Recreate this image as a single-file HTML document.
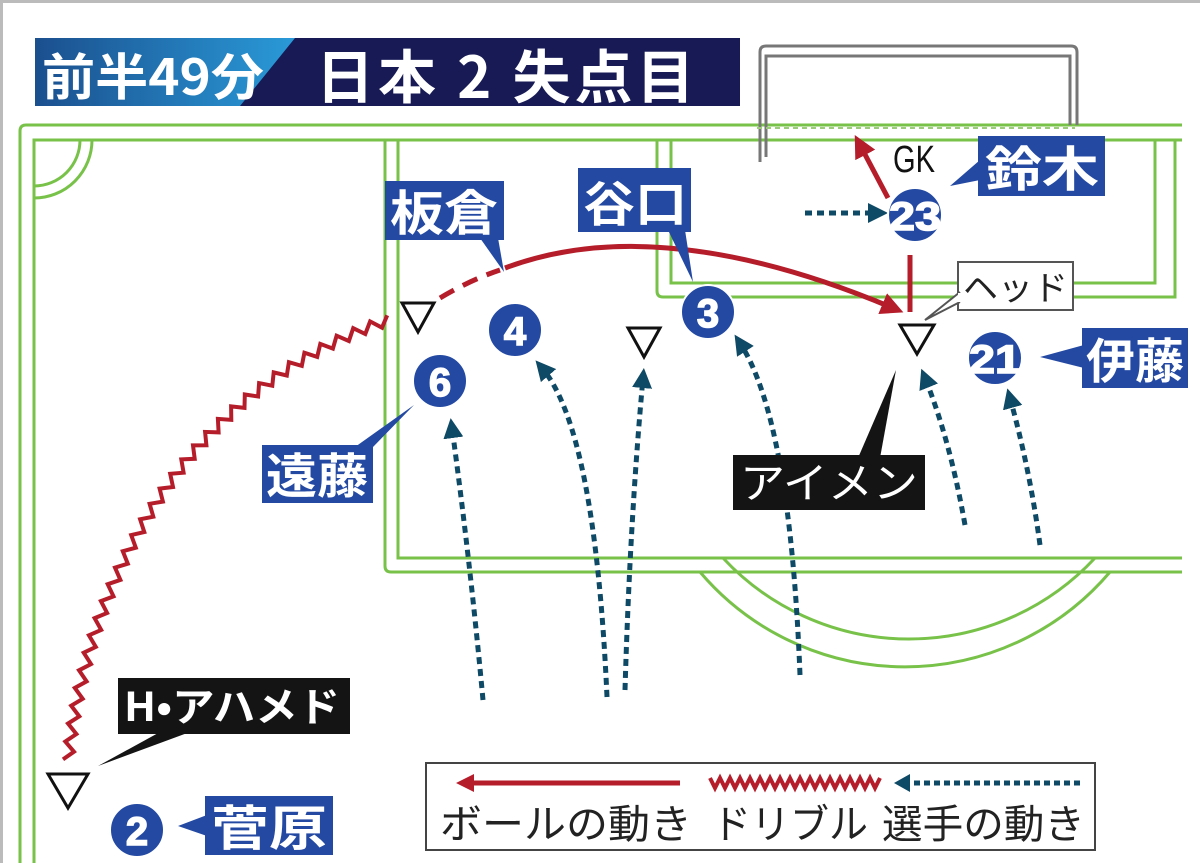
<!DOCTYPE html>
<html><head><meta charset="utf-8"><style>
html,body{margin:0;padding:0;background:#fff;}
svg{display:block;}
text{font-family:"Liberation Sans","Noto Sans CJK JP",sans-serif;}
.jp{font-family:"Noto Sans CJK JP","Liberation Sans",sans-serif;}
.num{font-family:"DejaVu Sans","Liberation Sans",sans-serif;font-weight:bold;}
</style></head><body>
<svg id="s" width="1200" height="863" viewBox="0 0 1200 863" xmlns="http://www.w3.org/2000/svg">
<defs>
<linearGradient id="hg" x1="0" x2="1" y1="0" y2="0"><stop offset="0" stop-color="#1b4f8e"/><stop offset="1" stop-color="#2a9ad8"/></linearGradient>
<marker id="ar" viewBox="0 0 10 10" refX="5" refY="5" markerWidth="4.5" markerHeight="4.5" orient="auto"><path d="M0,0 L10,5 L0,10 z" fill="#b51d2a"/></marker>
<marker id="ab" viewBox="0 0 10 10" refX="5" refY="5" markerWidth="4" markerHeight="4" orient="auto"><path d="M0,0 L10,5 L0,10 z" fill="#0e4965"/></marker>
</defs>
<rect x="0" y="0" width="1200" height="863" fill="#fff"/>
<rect x="0" y="0" width="1200" height="3" fill="#bbb"/>
<rect x="0" y="0" width="3" height="863" fill="#bbb"/>

<!-- pitch lines -->
<g fill="none" stroke="#78c24a" stroke-width="3">
<path d="M20,863 V131 Q20,125 26,125 H1182"/>
<path d="M34,863 V140 H1182"/>
<path d="M34,186 A46,46 0 0 0 80,140"/>
<path d="M34,198 A58,58 0 0 0 92,140"/>
<path d="M385,140 V566 Q385,572 391,572 H1182"/>
<path d="M398,140 V558 H1182"/>
<path d="M657,140 V291 Q657,297 663,297 H1175 V140"/>
<path d="M671,140 V283 H1155 V140"/>
<path d="M700,572 A269,269 0 0 0 1110,572"/>
<path d="M723,558 A254,254 0 0 0 1095,558"/>
</g>

<!-- goal -->
<g fill="none" stroke="#777" stroke-width="3">
<path d="M760,162 V52 Q760,46 766,46 H1071 Q1077,46 1077,52 V125"/>
<path d="M766,157 V56 H1070 V125"/>
</g>
<path d="M757,128 H1075" stroke="#9ccb7c" stroke-width="2" stroke-dasharray="5,4" fill="none"/>

<!-- header -->
<rect x="35" y="38" width="705" height="68" fill="#171a55"/>
<path d="M35,38 H295 L240,106 H35 z" fill="url(#hg)"/>
<text x="42" y="95" class="jp" font-size="50" font-weight="bold" fill="#fff" textLength="222" lengthAdjust="spacingAndGlyphs">前半49分</text>
<text x="316" y="98" class="jp" font-size="58" font-weight="bold" fill="#fff" letter-spacing="4">日本 2 失点目</text>

<!-- red ball path -->
<path d="M440,298 Q470,280 500,270" stroke="#b51d2a" stroke-width="5" fill="none" stroke-dasharray="16,10"/>
<path d="M505,268 Q660,210 893,308" stroke="#b51d2a" stroke-width="5" fill="none" marker-end="url(#ar)"/>
<path d="M910,312 V255" stroke="#b51d2a" stroke-width="5" fill="none"/>
<path d="M888,198 L860,145" stroke="#b51d2a" stroke-width="5" fill="none" marker-end="url(#ar)"/>

<!-- dribble zigzag -->
<path id="zz" d="M68,760 C90,560 200,380 395,318" stroke="#b51d2a" stroke-width="4" fill="none"/>

<!-- blue dotted arrows -->
<g stroke="#0e4965" stroke-width="5" fill="none" stroke-dasharray="7,5" marker-end="url(#ab)">
<path d="M483,700 Q470,560 452,428"/>
<path d="M607,697 Q595,430 542,368"/>
<path d="M625,690 Q630,520 643,378"/>
<path d="M800,675 Q790,420 740,343"/>
<path d="M965,525 Q950,440 925,378"/>
<path d="M1040,545 Q1030,470 1010,398"/>
<path d="M805,213 H878"/>
</g>

<!-- triangles -->
<g fill="#fff" stroke="#111" stroke-width="3" stroke-linejoin="miter">
<path d="M402,303 H434 L418,332 z"/>
<path d="M628,328 H660 L644,357 z"/>
<path d="M900,325 H934 L917,354 z"/>
<path d="M48,774 H88 L68,808 z"/>
</g>

<!-- callouts blue -->
<g fill="#2349a3">
<rect x="385" y="181" width="119" height="59"/><path d="M480,238 L504,272 L498,238 z"/>
<rect x="578" y="168" width="113" height="64"/><path d="M668,230 L693,282 L685,230 z"/>
<rect x="978" y="136" width="127" height="60"/><path d="M980,160 L950,186 L980,180 z"/>
<rect x="1082" y="328" width="106" height="60"/><path d="M1084,345 L1040,357 L1084,368 z"/>
<rect x="262" y="445" width="111" height="58"/><path d="M355,447 L414,405 L373,447 z"/>
<rect x="205" y="796" width="128" height="59"/><path d="M207,815 L178,826 L207,836 z"/>
</g>
<g class="jp" font-weight="bold" fill="#fff" font-size="48">
<text x="390" y="230" textLength="108" lengthAdjust="spacingAndGlyphs">板倉</text>
<text x="583" y="221" textLength="104" lengthAdjust="spacingAndGlyphs">谷口</text>
<text x="985" y="186" textLength="114" lengthAdjust="spacingAndGlyphs">鈴木</text>
<text x="1086" y="378" textLength="98" lengthAdjust="spacingAndGlyphs">伊藤</text>
<text x="266" y="493" textLength="102" lengthAdjust="spacingAndGlyphs">遠藤</text>
<text x="211" y="845" textLength="116" lengthAdjust="spacingAndGlyphs">菅原</text>
</g>

<!-- black callouts -->
<g fill="#141414">
<rect x="733" y="455" width="192" height="55"/><path d="M858,458 L896,370 L880,458 z"/>
<rect x="118" y="678" width="232" height="56"/><path d="M160,732 L98,766 L190,732 z"/>
</g>
<text x="740" y="498" class="jp" font-size="42" fill="#fff" textLength="178" lengthAdjust="spacingAndGlyphs">アイメン</text>
<text x="124" y="721" class="jp" font-size="40" fill="#fff" font-weight="bold" textLength="216" lengthAdjust="spacingAndGlyphs">H•アハメド</text>

<!-- ヘッド -->
<rect x="958" y="262" width="115" height="48" fill="#fff" stroke="#555" stroke-width="2"/>
<path d="M960,292 L925,320 L960,302" fill="#fff" stroke="#555" stroke-width="2"/>
<rect x="958" y="293" width="4" height="9" fill="#fff"/>
<text x="963" y="300" class="jp" font-size="34" fill="#222" textLength="105" lengthAdjust="spacingAndGlyphs">ヘッド</text>

<text x="893" y="172" font-size="38" fill="#111" textLength="42" lengthAdjust="spacingAndGlyphs">GK</text>

<!-- player circles -->
<g fill="#2349a3" stroke="#fff" stroke-width="2">
<circle cx="515" cy="330" r="27"/>
<circle cx="708" cy="312" r="27"/>
<circle cx="440" cy="381" r="27"/>
<circle cx="915" cy="215" r="27"/>
<circle cx="995" cy="358" r="27"/>
<circle cx="137" cy="830" r="27"/>
</g>
<g class="num" fill="#fff" text-anchor="middle" font-size="40" stroke="#fff" stroke-width="1.5">
<text x="515" y="345">4</text>
<text x="708" y="327">3</text>
<text x="440" y="396">6</text>
<text x="915" y="230" font-size="40" textLength="52" lengthAdjust="spacingAndGlyphs">23</text>
<text x="995" y="373" font-size="40" textLength="52" lengthAdjust="spacingAndGlyphs">21</text>
<text x="137" y="845">2</text>
</g>

<!-- legend -->
<rect x="426" y="763" width="669" height="87" fill="#fff" stroke="#444" stroke-width="2"/>
<path d="M468,783 H680" stroke="#b51d2a" stroke-width="5" fill="none"/>
<path d="M456,783 L474,774 L474,792 z" fill="#b51d2a"/>
<path id="lz" d="M710,783 H880" stroke="#b51d2a" stroke-width="4" fill="none"/>
<path d="M1080,783 H908" stroke="#0e4965" stroke-width="5" fill="none" stroke-dasharray="6,4"/>
<path d="M894,783 L910,774 L910,792 z" fill="#0e4965"/>
<g class="jp" font-size="40" fill="#222">
<text x="440" y="838" textLength="252" lengthAdjust="spacingAndGlyphs">ボールの動き</text>
<text x="712" y="838" textLength="156" lengthAdjust="spacingAndGlyphs">ドリブル</text>
<text x="882" y="838" textLength="203" lengthAdjust="spacingAndGlyphs">選手の動き</text>
</g>
</svg>
<script>
(function(){
 var ns="http://www.w3.org/2000/svg";
 function zig(id,amp,step){
  var p=document.getElementById(id);if(!p)return;
  var L=p.getTotalLength(),pts=[],i=0;
  for(var d=0;d<=L;d+=step/2,i++){
   var a=p.getPointAtLength(d),b=p.getPointAtLength(Math.min(L,d+1)),c=p.getPointAtLength(Math.max(0,d-1));
   var dx=b.x-c.x,dy=b.y-c.y,n=Math.hypot(dx,dy)||1;
   var s=(i%2?1:-1)*amp;
   pts.push((a.x-dy/n*s).toFixed(1)+","+(a.y+dx/n*s).toFixed(1));
  }
  var q=document.createElementNS(ns,"polyline");
  q.setAttribute("points",pts.join(" "));
  q.setAttribute("fill","none");q.setAttribute("stroke","#b51d2a");
  q.setAttribute("stroke-width",p.getAttribute("stroke-width"));
  p.parentNode.insertBefore(q,p);p.parentNode.removeChild(p);
 }
 zig("zz",5,18);zig("lz",5,10);
})();
</script>
</body></html>
